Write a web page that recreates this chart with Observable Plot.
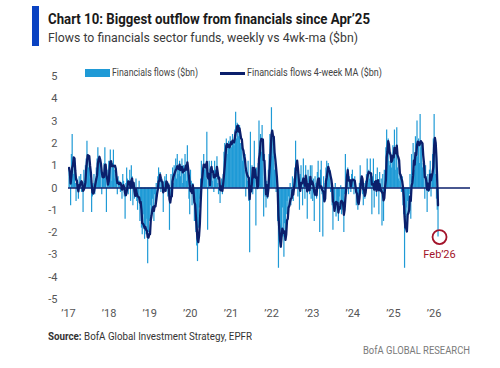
<!DOCTYPE html>
<html><head><meta charset="utf-8">
<script src="https://cdn.jsdelivr.net/npm/d3@7"></script>
<script src="https://cdn.jsdelivr.net/npm/@observablehq/plot@0.6"></script>
<style>
body{margin:0;background:#fff;width:500px;height:368px;position:relative;overflow:hidden;font-family:Roboto,"Liberation Sans",sans-serif}
.abs{position:absolute;white-space:nowrap;transform-origin:0 50%}
#bar{position:absolute;left:32px;top:6px;width:7px;height:40px;background:#0a42c2}
#title{left:48px;top:11px;font-weight:700;font-size:15px;line-height:17px;color:#1a1a1a}
#subtitle{left:48px;top:29px;font-size:13.5px;line-height:16px;color:#3a3a3a}
#chart{position:absolute;left:0;top:60px}
.sw1{position:absolute;left:85px;top:69px;width:25px;height:8px;background:#1f9ad6}
.sw2{position:absolute;left:220px;top:72px;width:25px;height:3px;background:#0b1f6b}
.leg{top:67px;font-size:10.5px;line-height:12px;color:#444}
#source{left:48px;top:329px;font-size:11.5px;line-height:14px;color:#333}
#brand{left:363px;top:344px;font-size:11px;line-height:13px;color:#7a7a7a}
</style></head>
<body>
<div id="bar"></div>
<div class="abs" id="title" data-w="322">Chart 10: Biggest outflow from financials since Apr’25</div>
<div class="abs" id="subtitle" data-w="310">Flows to financials sector funds, weekly vs 4wk-ma ($bn)</div>
<div id="chart"></div>
<div class="sw1"></div>
<div class="abs leg" style="left:112px" data-w="86">Financials flows ($bn)</div>
<div class="sw2"></div>
<div class="abs leg" style="left:247px" data-w="135">Financials flows 4-week MA ($bn)</div>
<div class="abs" id="source" data-w="204"><b>Source:</b> BofA Global Investment Strategy, EPFR</div>
<div class="abs" id="brand" data-w="107">BofA GLOBAL RESEARCH</div>
<script>
// Weekly flows to financials sector funds ($bn), first week = 2017-01-06
const flows2017 = [0.9, 0.5, -0.8, 1.5, 2.4, 1.0, 0.6, 1.3, 0.2, -0.6, 0.4, 0.1, -0.5,
  0.5, 0.3, 0.6, -0.2, 0.2, -1.1, 0.8, 0.3, 1.0, 1.3, 2.1, 1.5, 0.9,
  1.2, 0.4, 0.3, -1.1, -0.4, 0.2, 0.6, -0.3, 0.4, 0.9, 1.3, 1.8, 1.1,
  1.4, 0.8, 1.0, -0.3, 0.5, 0.7, 1.1, 1.8, 0.6, -1.1, 0.3, 0.8, 1.2];
const flows2018 = [1.0, 1.7, 0.9, 0.3, 1.1, 1.7, 0.8, 0.4, 0.6, 0.2, -0.3, 0.5, 0.3,
  0.3, -0.2, 0.1, -0.5, 0.6, 0.3, -0.4, -1.4, 0.2, 0.9, 0.4, -0.3, 0.1,
  0.8, -0.6, 1.0, 0.5, -0.8, 0.2, -0.5, -0.3, 0.4, -0.6, -1.0, -0.4, 0.3,
  -1.5, -0.9, -1.8, -2.1, -1.6, -1.2, -2.3, -1.9, -2.1, -1.4, -3.4, -2.0, -1.5];
const flows2019 = [-1.4, -0.8, -1.2, -0.5, -0.9, -1.5, -0.3, -0.6, 0.2, -0.4, 0.5, 0.9, 0.3,
  0.7, -0.2, 0.4, 0.1, -1.1, 0.3, 0.5, -0.2, 0.6, 0.1, -0.4, 0.2, -1.9,
  -0.5, 0.6, 0.3, 0.9, 0.2, 1.0, 0.7, 1.3, 0.4, 1.5, 0.6, 0.9, 1.2,
  0.5, 0.8, 1.3, 0.2, 1.0, 0.6, 1.5, 0.9, 0.3, 1.9, 0.4, -0.5, -1.2];
const flows2020 = [0.8, 0.3, -0.8, 0.2, -0.5, -1.5, -1.2, -2.0, -2.6, -3.3, -1.8, -0.9, -0.5,
  0.4, 1.2, 0.6, 0.9, 1.5, 0.8, 1.0, 0.4, 2.5, -1.9, 0.7, 1.2, 0.5,
  0.9, 1.2, 0.3, 0.6, -0.2, 1.2, 0.8, 0.4, 1.4, 0.2, -0.3, 0.5, -0.7,
  0.1, 0.4, -0.3, 0.6, 1.6, 2.0, 1.8, 2.2, 1.9, 1.5, 2.1, 1.8, 2.3];
const flows2021 = [2.0, 1.8, 2.4, 2.1, 1.9, 2.6, 3.4, 2.2, 2.9, 2.7, 2.3, 2.8, 2.0,
  1.8, 2.1, 1.2, 1.6, 0.8, 1.5, -0.4, 0.9, 0.3, 1.2, -0.6, -2.9, 2.5,
  0.4, 1.0, -0.3, 0.8, 2.1, 0.6, -1.7, 0.9, 0.2, 1.1, 3.0, 1.8, 2.4,
  1.6, 2.8, 1.9, -1.3, 1.5, -0.4, -0.9, 0.3, -0.5, 0.8, 1.5, 2.4, 2.0];
const flows2022 = [3.6, 2.3, 1.4, 1.9, 0.8, 1.1, -0.2, 0.3, -1.5, -3.6, -2.4, -1.8, -2.7,
  -1.9, -0.9, -2.2, -3.1, -1.6, -2.4, -1.2, -0.6, -1.3, -0.4, -0.9, 0.2, -0.8,
  -0.3, 0.5, -0.6, 0.4, 0.9, 2.1, 0.7, 1.2, -0.4, 0.3, -1.0, 0.6, 1.0,
  0.2, -0.8, 1.3, 0.4, -0.5, 1.0, 0.3, -1.4, 0.8, 0.5, -0.3, 1.0, -0.5];
const flows2023 = [1.0, -0.6, 0.4, -1.5, 0.5, 0.2, -0.5, 0.7, 1.2, 0.3, -2.0, 0.8, 1.2,
  -0.3, -2.2, 0.5, -0.4, 0.2, 0.9, 1.2, 0.6, 1.1, 0.4, 0.8, -0.2, 0.5,
  -0.8, -1.9, -0.5, -0.9, 0.2, -1.3, -0.6, -1.0, -1.5, -0.4, -0.8, 0.1, -1.2,
  -0.6, -1.0, -2.0, -0.3, 1.5, 0.6, 0.2, 0.9, -0.3, 0.5, 0.3, -0.2, 0.6];
const flows2024 = [0.8, 0.3, -0.3, 0.5, -0.2, -0.8, -0.5, -1.0, -0.6, 0.2, 1.0, 0.4, 0.5,
  -0.3, -0.8, 0.2, -0.5, 0.3, 0.6, 1.3, 0.2, 0.8, 0.4, 1.3, 0.1, -1.2,
  0.5, 1.3, -0.9, 0.2, 0.6, -0.4, 0.9, 0.3, -1.2, 0.7, -0.2, 0.4, -1.7,
  0.6, -1.5, 0.8, 0.3, 1.8, 2.6, 1.8, 2.2, 1.2, 1.0, 1.6, 0.9, 1.4];
const flows2025 = [1.9, 1.3, 2.6, 0.8, 1.5, 2.7, 0.9, 0.4, 1.0, 0.3, 0.6, -0.2, 0.5,
  -0.8, -1.2, -3.6, -1.5, -0.9, -1.8, -0.6, -1.2, -0.3, 0.6, -1.4, 1.5, 0.2,
  2.0, 1.2, 0.8, 2.3, 1.6, 3.0, 1.4, 2.2, 1.1, 3.3, 1.8, 2.0, 0.9,
  1.1, 0.4, -0.5, 1.0, 0.3, -1.1, 0.6, -0.2, 0.8, 1.2, -0.4, 0.5, 1.5];
const flows2026 = [2.2, 3.3, 2.0, 0.6, -0.5, -1.0, -2.2];

const yearTicks = [2017, 2018, 2019, 2020, 2021, 2022, 2023, 2024, 2025, 2026];
const yTicks = [-5, -4, -3, -2, -1, 0, 1, 2, 3, 4, 5];
const calloutLabel = "Feb’26";

const LIGHT = "#1f9ad6", NAVY = "#0b1f6b", RED = "#a3132a";
const WEEK = 7 * 864e5;
const start = Date.UTC(2017, 0, 6);
const flows = [].concat(flows2017, flows2018, flows2019, flows2020, flows2021,
  flows2022, flows2023, flows2024, flows2025, flows2026);
const data = flows.map((v, i) => ({date: new Date(start + i * WEEK), flow: v}));
const last = data[data.length - 1];

const chart = Plot.plot({
  width: 500, height: 261,
  marginTop: 16, marginBottom: 22, marginLeft: 68, marginRight: 30,
  style: {fontFamily: "Roboto, sans-serif", fontSize: "11px", color: "#555", background: "white"},
  x: {type: "utc", domain: [new Date(Date.UTC(2017, 0, 1)), new Date(Date.UTC(2026, 10, 25))],
      ticks: yearTicks.map(y => new Date(Date.UTC(y, 0, 1))),
      tickFormat: d => "’" + String(d.getUTCFullYear()).slice(2),
      tickSize: 0, tickPadding: 10, label: null},
  y: {domain: [-5, 5], ticks: yTicks, tickFormat: d => String(d), tickSize: 0, tickPadding: 11, label: null},
  marks: [
    Plot.ruleX(data, {x: "date", y1: 0, y2: "flow", stroke: LIGHT, strokeWidth: 1.2}),
    Plot.ruleY([0], {stroke: NAVY, strokeWidth: 1.4}),
    Plot.lineY(data, Plot.windowY({k: 4, anchor: "end"}, {x: "date", y: "flow", stroke: NAVY, strokeWidth: 2.3})),
    Plot.dot([last], {x: "date", y: "flow", r: 7, stroke: RED, strokeWidth: 1.8, fill: "none", dx: 1.5}),
    Plot.text([last], {x: "date", y: "flow", text: () => calloutLabel, dy: 17, dx: 1.5, fill: RED, fontSize: 11})
  ]
});
document.getElementById("chart").appendChild(chart);

document.querySelectorAll("[data-w]").forEach(el => {
  const w = el.getBoundingClientRect().width;
  el.style.transform = `scaleX(${(+el.dataset.w / w).toFixed(4)})`;
});
</script>
</body></html>
